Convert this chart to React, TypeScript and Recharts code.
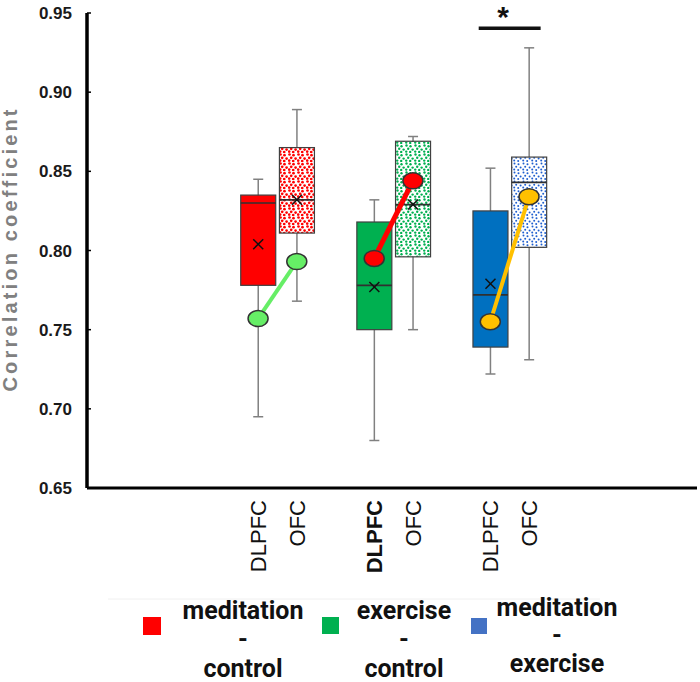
import React from 'react';
import { ComposedChart, Bar, Line, XAxis, YAxis, ReferenceLine, ReferenceDot, Legend } from 'recharts';

// ---- data ----
const regions = ['DLPFC', 'OFC', 'DLPFC', 'OFC', 'DLPFC', 'OFC'];
const positions = [1, 2, 4, 5, 7, 8];
const boxGroup = [0, 0, 1, 1, 2, 2];
const groupLabels = [
  ['meditation', '-', 'control'],
  ['exercise', '-', 'control'],
  ['meditation', '-', 'exercise'],
];
const groupColors = ['#ff0000', '#00b050', '#0070c0'];
const legendColors = ['#ff0000', '#00b050', '#4472c4'];
const patternIds = ['dotRed', 'dotGreen', 'dotBlue'];

const whiskerLow = [0.695, 0.768, 0.68, 0.75, 0.722, 0.731];
const quartile1 = [0.778, 0.811, 0.75, 0.796, 0.739, 0.802];
const medians = [0.83, 0.832, 0.778, 0.829, 0.772, 0.843];
const quartile3 = [0.835, 0.865, 0.818, 0.869, 0.825, 0.859];
const whiskerHigh = [0.845, 0.889, 0.832, 0.872, 0.852, 0.928];
const means = [0.804, 0.832, 0.777, 0.829, 0.779, 0.835];

const pairDLPFC = [0.757, 0.795, 0.755];
const pairOFC = [0.793, 0.844, 0.834];
const pairColors = ['#66ee66', '#ff0000', '#ffc000'];

const yTicks = [0.65, 0.7, 0.75, 0.8, 0.85, 0.9, 0.95];
const sigBar = { from: 6.7, to: 8.3, y: 0.9403, starX: 7.33, label: '*' };

const boxData = positions.map((pos, i) => ({
  pos,
  region: regions[i],
  group: boxGroup[i],
  dotted: regions[i] === 'OFC',
  low: whiskerLow[i],
  q1: quartile1[i],
  median: medians[i],
  q3: quartile3[i],
  high: whiskerHigh[i],
  mean: means[i],
}));

const pairData = pairDLPFC.map((v, g) => [
  { pos: positions[2 * g], v },
  { pos: positions[2 * g + 1], v: pairOFC[g] },
]);

const FONT = '"Liberation Sans", Arial, sans-serif';

const BoxShape = (props: any) => {
  const { x, y, width, height, payload } = props;
  const top = Math.min(y, y + height);
  const bottom = Math.max(y, y + height);
  const span = bottom - top;
  const p = (v: number) => bottom - ((v - payload.low) / (payload.high - payload.low)) * span;
  const cx = x + width / 2;
  const fill = payload.dotted ? `url(#${patternIds[payload.group]})` : groupColors[payload.group];
  const yq3 = p(payload.q3);
  const yq1 = p(payload.q1);
  const ym = p(payload.median);
  const ymean = p(payload.mean);
  const cap = 5;
  const xs = 5;
  return (
    <g>
      <line x1={cx} x2={cx} y1={p(payload.high)} y2={p(payload.low)} stroke="#808080" strokeWidth={1.5} />
      <line x1={cx - cap} x2={cx + cap} y1={p(payload.high)} y2={p(payload.high)} stroke="#808080" strokeWidth={1.5} />
      <line x1={cx - cap} x2={cx + cap} y1={p(payload.low)} y2={p(payload.low)} stroke="#808080" strokeWidth={1.5} />
      <rect x={x} y={yq3} width={width} height={yq1 - yq3} fill={fill} stroke="#404040" strokeWidth={1.2} />
      <line x1={x} x2={x + width} y1={ym} y2={ym} stroke="#303030" strokeWidth={1.6} />
      <line x1={cx - xs} x2={cx + xs} y1={ymean - xs} y2={ymean + xs} stroke="#111" strokeWidth={1.5} />
      <line x1={cx - xs} x2={cx + xs} y1={ymean + xs} y2={ymean - xs} stroke="#111" strokeWidth={1.5} />
    </g>
  );
};

const makeDot = (color: string) => (props: any) => {
  const { cx, cy, index } = props;
  return <ellipse key={index} cx={cx} cy={cy} rx={10} ry={8} fill={color} stroke="#333" strokeWidth={1.5} />;
};

const YTick = (props: any) => {
  const { x, y, payload } = props;
  return (
    <g>
      <line x1={x} x2={x + 4} y1={y} y2={y} stroke="#000" strokeWidth={1.5} />
      <text x={x - 15} y={y + 6} textAnchor="end" fontFamily={FONT} fontWeight="bold" fontSize={17} fill="#1a1a1a">
        {payload.value.toFixed(2)}
      </text>
    </g>
  );
};

const XTick = (props: any) => {
  const { x, y, payload, index } = props;
  const i = positions.indexOf(payload.value);
  const label = regions[i] ?? '';
  const bold = i === 2;
  const bx = x + 8;
  const by = y + 12;
  return (
    <text
      key={index}
      x={bx}
      y={by}
      transform={`rotate(-90, ${bx}, ${by})`}
      textAnchor="end"
      fontFamily={FONT}
      fontSize={22}
      fontWeight={bold ? 'bold' : 'normal'}
      fill="#111"
    >
      {label}
    </text>
  );
};

const YLabel = (props: any) => {
  const vb = props.viewBox || { x: 0, y: 13, width: 87, height: 475 };
  const cx = vb.x + 17;
  const cy = vb.y + vb.height / 2;
  return (
    <text
      x={cx}
      y={cy}
      transform={`rotate(-90, ${cx}, ${cy})`}
      textAnchor="middle"
      fontFamily={FONT}
      fontWeight="bold"
      fontSize={20}
      fill="#808080"
      textLength={282}
      lengthAdjust="spacing"
    >
      Correlation coefficient
    </text>
  );
};

const squares = [
  { x: 143, y: 27, s: 18 },
  { x: 322, y: 27, s: 17 },
  { x: 471, y: 28, s: 16 },
];
const textCenters = [243, 404, 557];
const baselines = [
  [29, 58, 87],
  [29, 58, 87],
  [26, 54, 82],
];

const LegendContent = () => (
  <svg width={700} height={92} style={{ display: 'block' }}>
    <line x1={108} x2={600} y1={9} y2={9} stroke="#f0f0f0" strokeWidth={1} />
    {groupLabels.map((lines, g) => (
      <g key={g}>
        <rect x={squares[g].x} y={squares[g].y} width={squares[g].s} height={squares[g].s} fill={legendColors[g]} />
        {lines.map((t, k) => (
          <text
            key={k}
            x={textCenters[g]}
            y={baselines[g][k]}
            textAnchor="middle"
            fontFamily="Roboto, 'Noto Sans', sans-serif"
            fontWeight="bold"
            fontSize={25}
            fill="#111"
          >
            {t}
          </text>
        ))}
      </g>
    ))}
  </svg>
);

const Star = (props: any) => {
  const { cx, cy } = props;
  return (
    <text x={cx} y={cy + 14} textAnchor="middle" fontFamily={FONT} fontWeight="bold" fontSize={30} fill="#111">
      {sigBar.label}
    </text>
  );
};

const dotSpots = [
  [1.5, 1.5],
  [5.5, 2.2],
  [3.2, 4.8],
  [7.6, 5.6],
  [1.2, 7.6],
  [5.2, 8.0],
];

const DotPattern = ({ id, color, r }: { id: string; color: string; r: number }) => (
  <pattern id={id} width={9} height={9} patternUnits="userSpaceOnUse">
    <rect width={9} height={9} fill="#fff" />
    {dotSpots.map(([cx, cy], k) => (
      <circle key={k} cx={cx} cy={cy} r={r} fill={color} />
    ))}
  </pattern>
);

export default function App() {
  return (
    <div style={{ position: 'absolute', left: 0, top: 0, width: 700, height: 682, background: '#fff' }}>
      <ComposedChart
        width={700}
        height={682}
        data={boxData}
        margin={{ top: 13, right: 3, bottom: 104, left: 0 }}
        style={{ fontFamily: FONT }}
      >
        <defs>
          <DotPattern id="dotRed" color="#ff0000" r={1.35} />
          <DotPattern id="dotGreen" color="#00b050" r={1.2} />
          <DotPattern id="dotBlue" color="#1f5fd0" r={1.0} />
        </defs>
        <XAxis
          dataKey="pos"
          type="number"
          domain={[-3.42, 12.34]}
          ticks={positions}
          interval={0}
          height={90}
          axisLine={{ stroke: '#000', strokeWidth: 3 }}
          tickLine={false}
          tickSize={0}
          tickMargin={0}
          tick={<XTick />}
          allowDataOverflow
        />
        <YAxis
          type="number"
          domain={[0.65, 0.95]}
          ticks={yTicks}
          width={87}
          axisLine={{ stroke: '#000', strokeWidth: 3.5 }}
          tickLine={false}
          tickSize={0}
          tickMargin={0}
          tick={<YTick />}
          label={<YLabel />}
          allowDataOverflow
        />
        <Legend
          layout="horizontal"
          verticalAlign="middle"
          align="center"
          wrapperStyle={{ top: 590, left: 0, width: 700, height: 92 }}
          content={<LegendContent />}
        />
        <Bar dataKey={(d: any) => [d.low, d.high]} barSize={35} shape={<BoxShape />} isAnimationActive={false} />
        {pairData.map((d, g) => (
          <Line
            key={g}
            data={d}
            dataKey="v"
            stroke={pairColors[g]}
            strokeWidth={g === 1 ? 5 : 4}
            dot={makeDot(pairColors[g])}
            activeDot={false}
            isAnimationActive={false}
          />
        ))}
        <ReferenceLine
          segment={[
            { x: sigBar.from, y: sigBar.y },
            { x: sigBar.to, y: sigBar.y },
          ]}
          stroke="#111"
          strokeWidth={3.5}
          ifOverflow="visible"
        />
        <ReferenceDot x={sigBar.starX} y={0.95} r={0} shape={<Star />} ifOverflow="visible" />
      </ComposedChart>
    </div>
  );
}
